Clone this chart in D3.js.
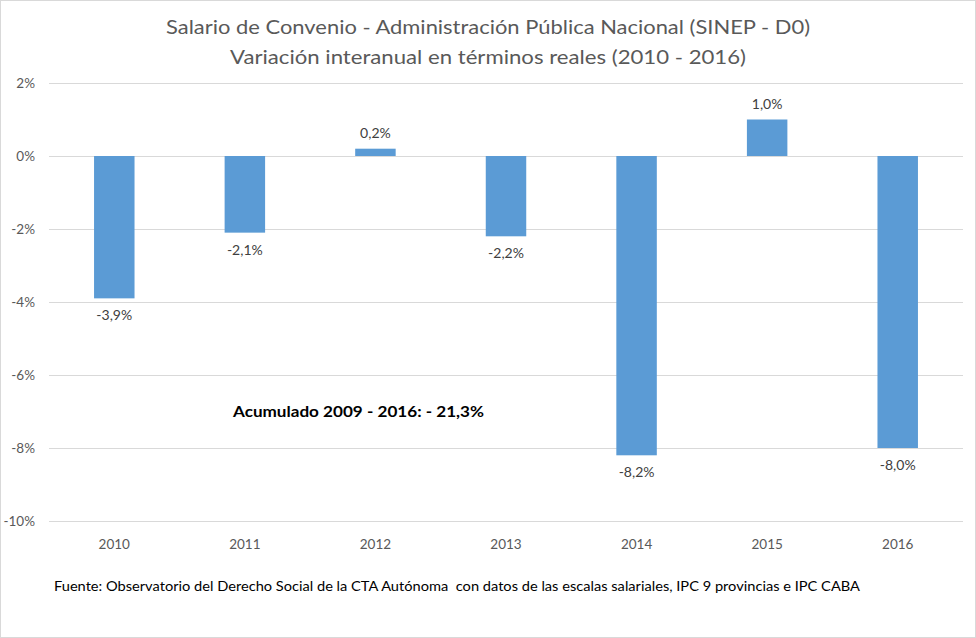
<!DOCTYPE html>
<html><head><meta charset="utf-8">
<script src="https://cdn.jsdelivr.net/npm/d3@7"></script>
<style>body{margin:0;background:#fff}svg{display:block}text{font-family:Lato,"Open Sans",sans-serif}</style>
</head><body><svg id="c" width="976" height="638"></svg>
<script>
const categories = ["2010","2011","2012","2013","2014","2015","2016"];
const values = [-3.9,-2.1,0.2,-2.2,-8.2,1.0,-8.0];
const yTicks = [2,0,-2,-4,-6,-8,-10];
const titleLines = ["Salario de Convenio - Administración Pública Nacional (SINEP - D0)","Variación interanual en términos reales (2010 - 2016)"];
const annotation = "Acumulado 2009 - 2016: - 21,3%";
const footnote = "Fuente: Observatorio del Derecho Social de la CTA Autónoma  con datos de las escalas salariales, IPC 9 provincias e IPC CABA";

const svg = d3.select("#c");
svg.append("rect").attr("x",0.5).attr("y",0.5).attr("width",975).attr("height",637).attr("fill","#fff").attr("stroke","#d9d9d9");

const x = d3.scaleBand().domain(categories).range([49,963]);
const y = d3.scaleLinear().domain([-10,2]).range([521,83]);
const barW = x.bandwidth()*0.31;
const fmt = v => (v.toFixed(1)).replace(".",",") + "%";

// gridlines
svg.append("g").selectAll("line").data(yTicks).join("line")
  .attr("x1",49).attr("x2",963).attr("y1",d=>Math.round(y(d))+0.5).attr("y2",d=>Math.round(y(d))+0.5)
  .attr("stroke","#d9d9d9").attr("stroke-width",1);

// y labels
svg.append("g").selectAll("text").data(yTicks).join("text")
  .attr("x",35).attr("y",d=>y(d)+5).attr("text-anchor","end")
  .attr("font-size",13.5).attr("fill","#595959").text(d=>d+"%");

// x labels
svg.append("g").selectAll("text").data(categories).join("text")
  .attr("x",d=>x(d)+x.bandwidth()/2).attr("y",549).attr("text-anchor","middle")
  .attr("font-size",13.5).attr("fill","#595959").text(d=>d);

// bars
svg.append("g").selectAll("rect").data(values).join("rect")
  .attr("x",(d,i)=>x(categories[i])+x.bandwidth()/2-barW/2)
  .attr("width",barW)
  .attr("y",d=>y(Math.max(0,d)))
  .attr("height",d=>Math.abs(y(d)-y(0)))
  .attr("fill","#5b9bd5");

// data labels
svg.append("g").selectAll("text").data(values).join("text")
  .attr("x",(d,i)=>x(categories[i])+x.bandwidth()/2)
  .attr("y",d=> d>=0 ? y(d)-11 : y(d)+22)
  .attr("text-anchor","middle").attr("font-size",14).attr("fill","#404040")
  .text(fmt);

// title
svg.append("g").selectAll("text").data(titleLines).join("text")
  .attr("x",488).attr("y",(d,i)=>34+i*30).attr("text-anchor","middle")
  .attr("font-size",20).attr("fill","#595959")
  .attr("textLength",(d,i)=>i===0?644:516).attr("lengthAdjust","spacingAndGlyphs")
  .text(d=>d);

svg.append("text").attr("x",233).attr("y",417).attr("font-size",15).attr("font-weight","bold")
  .attr("fill","#000").attr("textLength",251).attr("lengthAdjust","spacingAndGlyphs").text(annotation);

svg.append("text").attr("x",54).attr("y",591).attr("font-size",13).attr("fill","#000")
  .style("white-space","pre")
  .attr("textLength",806).attr("lengthAdjust","spacingAndGlyphs").text(footnote);
</script></body></html>
